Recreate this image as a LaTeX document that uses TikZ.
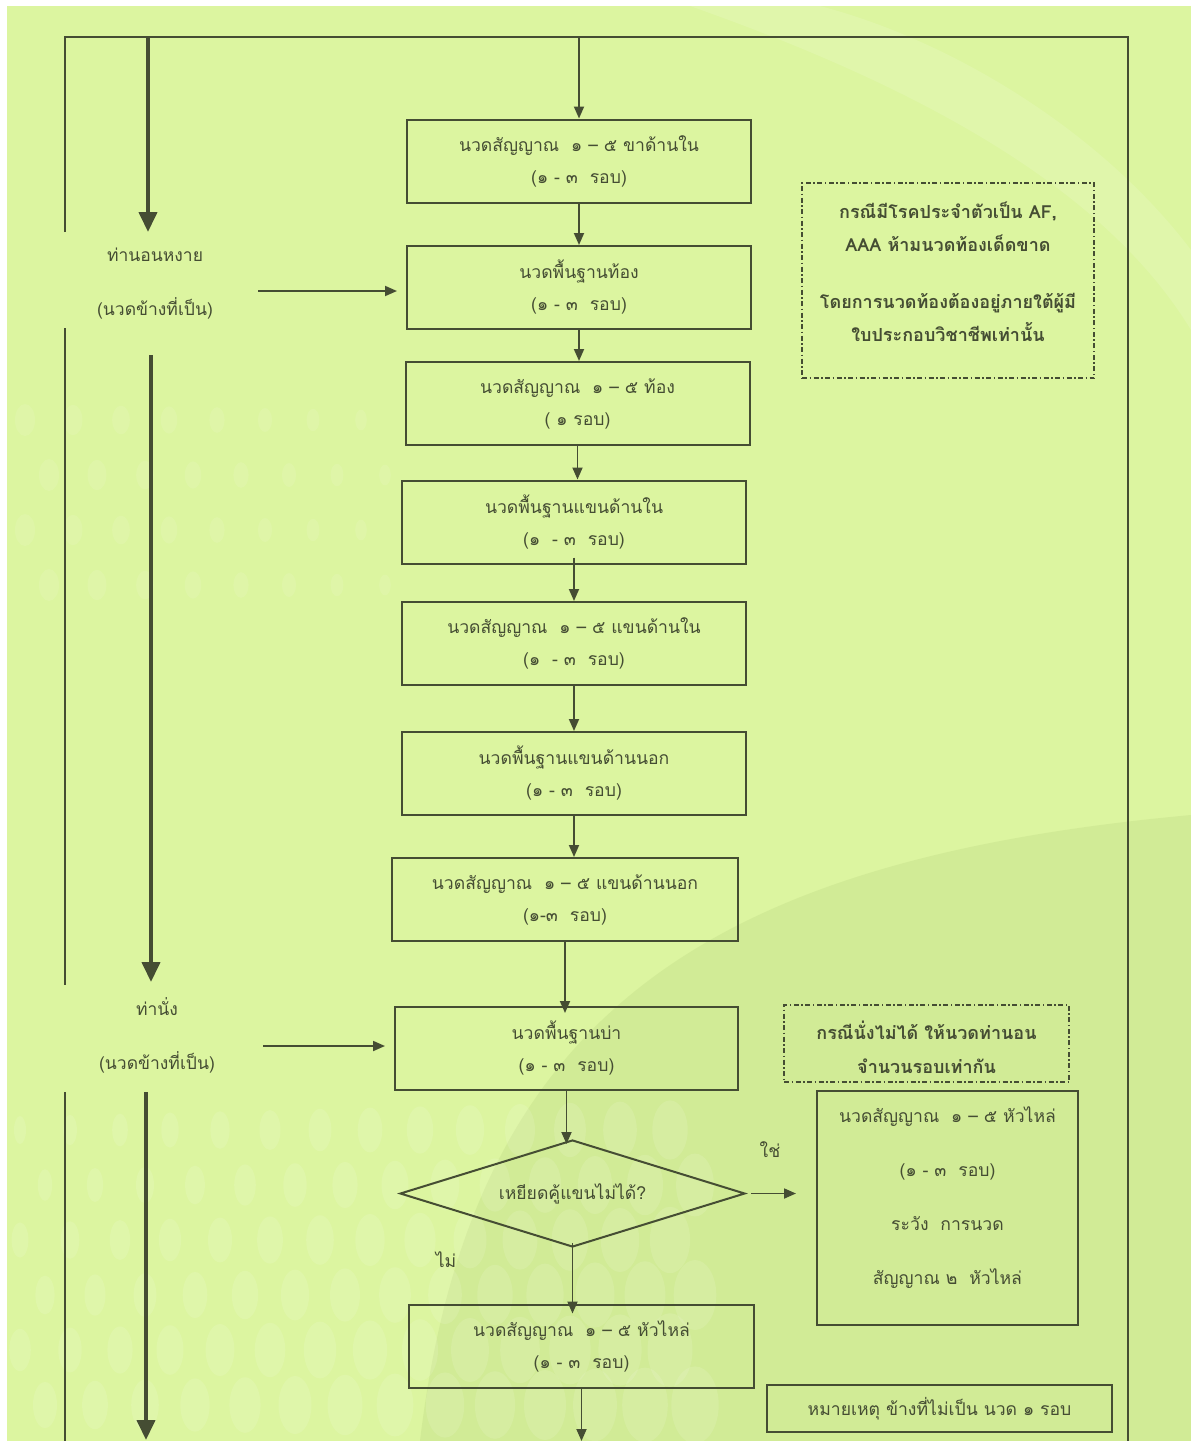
\documentclass[tikz,border=0pt]{standalone}
\usepackage{fontspec}
\setmainfont{Loma}[Script=Thai]
\usetikzlibrary{arrows.meta,shapes.geometric,calc}
\definecolor{paper}{HTML}{DCF5A0}
\definecolor{paperdark}{HTML}{CFE994}
\definecolor{ink}{HTML}{454D33}
\definecolor{txt}{HTML}{454D33}
\tikzset{
  box/.style={draw=ink, line width=2pt, minimum width=344pt, minimum height=83pt,
    inner sep=0pt, align=center, text=txt, font=\fontsize{17.6}{32}\selectfont},
  notebox/.style={draw=ink, line width=1.5pt, inner sep=0pt, align=center, text=txt,
    dash pattern=on 5pt off 2.5pt on 1.5pt off 2.5pt},
  arr/.style={draw=ink, line width=1.8pt, -{Triangle[length=12pt,width=10pt]}},
  bigarr/.style={draw=ink, line width=4pt, -{Triangle[length=20pt,width=18pt]}},
  frame/.style={draw=ink, line width=1.8pt},
  lbl/.style={text=txt, align=center, font=\fontsize{17.5}{54}\selectfont},
  plain/.style={text=txt, align=center, font=\fontsize{17.6}{20}\selectfont},
}
\begin{document}
\begin{tikzpicture}[x=1pt,y=-1pt]
\useasboundingbox (0,0) rectangle (1191,1441);
% paper background
\fill[white] (0,0) rectangle (1191,1441);
\fill[paper] (7,6) rectangle (1191,1441);
\fill[white,opacity=0.12] (690,6) .. controls (900,80) and (1100,180) .. (1191,330)
  -- (1191,250) .. controls (1100,130) and (950,40) .. (820,6) -- cycle;
\fill[paperdark,opacity=0.8] (420,1441) .. controls (470,1020) and (700,860) .. (1191,815)
  -- (1191,1441) -- cycle;
\foreach \i in {0,...,13}{
  \foreach \j in {0,...,5}{
    \fill[white,opacity=0.11] ({20+\i*50+mod(\j,2)*25},{1130+\j*55})
      ellipse ({6+\i*0.9+\j*1.2} and {14+\i*1.2+\j*1.8});
  }
}
\foreach \i in {0,...,7}{
  \foreach \j in {0,...,3}{
    \fill[white,opacity=0.09] ({25+\i*48+mod(\j,2)*24},{420+\j*55})
      ellipse ({10-\i*0.6} and {16-\i*0.8});
  }
}

% outer frame
\coordinate (tl) at (65,37);
\coordinate (tr) at (1128,37);
\coordinate (br) at (1128,1441);
\draw[frame] (65,232) -- (tl) -- (tr) -- (br);
\draw[frame] (65,328) -- (65,985);
\draw[frame] (65,1092) -- (65,1441);

% main sequence
\node[box] (b1) at (579,161) {นวดสัญญาณ\ \ ๑ – ๕ ขาด้านใน\\(๑ - ๓\ \ รอบ)};
\node[box] (b2) at (579,287.5) {นวดพื้นฐานท้อง\\(๑ - ๓\ \ รอบ)};
\node[box] (b3) at (577.5,403.5) {นวดสัญญาณ\ \ ๑ – ๕ ท้อง\\( ๑ รอบ)};
\node[box] (b4) at (574,522) {นวดพื้นฐานแขนด้านใน\\(๑\ \ - ๓\ \ รอบ)};
\node[box] (b5) at (574,643.5) {นวดสัญญาณ\ \ ๑ – ๕ แขนด้านใน\\(๑\ \ - ๓\ \ รอบ)};
\node[box] (b6) at (574,773.5) {นวดพื้นฐานแขนด้านนอก\\(๑ - ๓\ \ รอบ)};
\node[box,minimum width=346pt] (b7) at (565,899.5) {นวดสัญญาณ\ \ ๑ – ๕ แขนด้านนอก\\(๑-๓\ \ รอบ)};
\node[box,minimum width=343pt] (b8) at (566.5,1048.5) {นวดพื้นฐานบ่า\\(๑ - ๓\ \ รอบ)};
\node[draw=ink, line width=2pt, diamond, aspect=3.2, minimum width=345pt, minimum height=107pt,
  inner sep=0pt, text=txt, font=\fontsize{17.6}{20}\selectfont] (d) at (572.5,1193.5) {เหยียดคู้แขนไม่ได้?};
\node[box,minimum width=345pt] (b9) at (581.5,1346) {นวดสัญญาณ\ \ ๑ – ๕ หัวไหล่\\(๑ - ๓\ \ รอบ)};

\draw[arr] (b1.north |- tl) -- (b1.north);
\draw[arr] (b1.south) -- (b1.south |- b2.north);
\draw[arr] (b2.south) -- (b2.south |- b3.north);
\draw[arr] (b3.south) -- (b3.south |- b4.north);
\draw[arr] ([yshift=7]b4.south) -- (b4.south |- b5.north);
\draw[arr] (b5.south) -- (b5.south |- b6.north);
\draw[arr] (b6.south) -- (b6.south |- b7.north);
\draw[arr] (b7.south) -- ([yshift=-7]b7.south |- b8.north);
\draw[arr] (b8.south) -- ([yshift=-5]b8.south |- d.north);
\draw[arr] ([yshift=5]d.south) -- ([yshift=-10]d.south |- b9.north);
\coordinate (bot) at (0,1441);
\draw[arr] (b9.south) -- (b9.south |- bot);

% branch for "yes"
\node[box, minimum width=261pt, minimum height=234pt] (yb) at (947.5,1208) {};
\node[lbl, font=\fontsize{17.6}{54}\selectfont] (ybt) at (947.5,1198)
  {นวดสัญญาณ\ \ ๑ – ๕ หัวไหล่\\(๑ - ๓\ \ รอบ)\\ระวัง\ \ การนวด\\สัญญาณ ๒\ \ หัวไหล่};
\draw[arr] ([xshift=5]d.east) -- ([xshift=-20]yb.west |- d.east);
\node[plain] (yes) at (770,1150) {ใช่};
\node[plain] (no) at (446,1260) {ไม่};

% side notes
\node[notebox, minimum width=292pt, minimum height=195pt] (n1) at (948,280.5) {};
\node[text=txt, align=center, font=\bfseries\fontsize{18}{33}\selectfont] (n1t) at (948,271.5)
  {กรณีมีโรคประจำตัวเป็น AF,\\AAA ห้ามนวดท้องเด็ดขาด\\[24pt]โดยการนวดท้องต้องอยู่ภายใต้ผู้มี\\ใบประกอบวิชาชีพเท่านั้น};
\node[notebox, minimum width=285pt, minimum height=77pt] (n2) at (926.5,1043.5) {};
\node[text=txt, align=center, font=\bfseries\fontsize{18}{34}\selectfont] (n2t) at (926.5,1047)
  {กรณีนั่งไม่ได้ ให้นวดท่านอน\\จำนวนรอบเท่ากัน};
\node[draw=ink, line width=2pt, minimum width=345pt, minimum height=47pt, inner sep=0pt,
  text=txt, font=\fontsize{17.6}{20}\selectfont] (n3) at (939.5,1408.5) {หมายเหตุ ข้างที่ไม่เป็น นวด ๑ รอบ};

% posture labels and thick flow
\node[lbl] (p1) at (155,284) {ท่านอนหงาย\\(นวดข้างที่เป็น)};
\node[lbl] (p2) at (157,1035.5) {ท่านั่ง\\(นวดข้างที่เป็น)};
\coordinate (a1) at (258,291);
\coordinate (a2) at (263,1046);
\draw[arr] (a1) -- ([xshift=-9]b2.west |- a1);
\draw[arr] (a2) -- ([xshift=-9]b8.west |- a2);

\coordinate (t1) at (148,37);
\coordinate (e1) at (148,232);
\coordinate (t2) at (151,355);
\coordinate (e2) at (151,982);
\coordinate (t3) at (146,1092);
\coordinate (e3) at (146,1440);
\draw[bigarr] (t1) -- (e1);
\draw[bigarr] (t2) -- (e2);
\draw[bigarr] (t3) -- (e3);
\end{tikzpicture}
\end{document}
